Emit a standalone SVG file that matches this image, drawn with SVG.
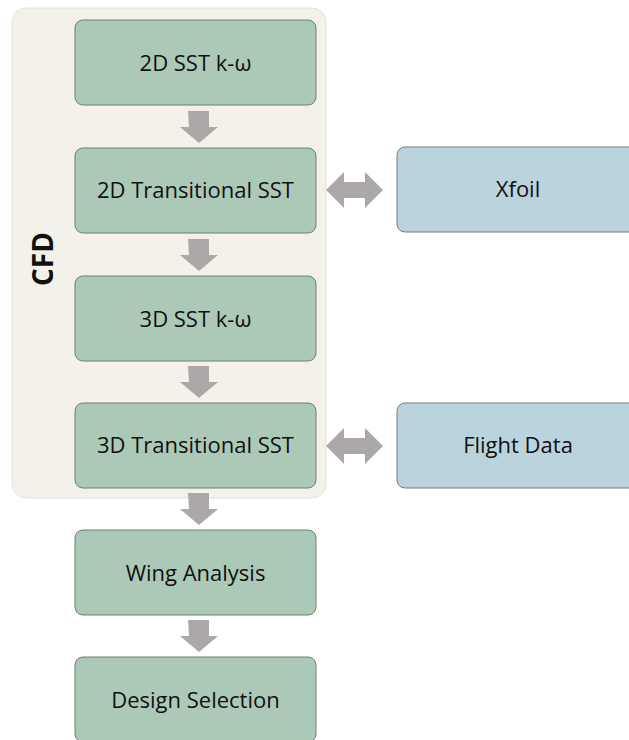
<svg xmlns="http://www.w3.org/2000/svg" width="629" height="740" viewBox="0 0 629 740">
<style>
.g{fill:#acc9b7;stroke:#6f7f75;stroke-width:1}
.b{fill:#bad3dc;stroke:#6f7f85;stroke-width:1}
.t{font-family:"Open Sans","Liberation Sans",sans-serif;font-size:22px;fill:#111;text-anchor:middle;dominant-baseline:central}
.a{fill:#aca8a8}
</style>
<rect width="629" height="740" fill="#fff"/>
<g id="cfd">
<rect x="12" y="8" width="314" height="490" rx="14" fill="#f4f1ea" stroke="#e6e3dc" stroke-width="1"/>
<text x="42" y="259" transform="rotate(-90 42 259)" font-family="'Open Sans','Liberation Sans',sans-serif" font-size="28" font-weight="bold" fill="#111" text-anchor="middle" dominant-baseline="central">CFD</text>
</g>
<g id="n1"><rect class="g" x="75" y="20" width="241" height="85" rx="8"/><text class="t" x="195.5" y="62">2D SST k-ω</text></g>
<g id="n2"><rect class="g" x="75" y="148" width="241" height="85" rx="8"/><text class="t" x="195.5" y="189">2D Transitional SST</text></g>
<g id="n3"><rect class="g" x="75" y="276" width="241" height="85" rx="8"/><text class="t" x="195.5" y="318">3D SST k-ω</text></g>
<g id="n4"><rect class="g" x="75" y="403" width="241" height="85" rx="8"/><text class="t" x="195.5" y="444">3D Transitional SST</text></g>
<g id="n5"><rect class="g" x="75" y="530" width="241" height="85" rx="8"/><text class="t" x="195.5" y="572">Wing Analysis</text></g>
<g id="n6"><rect class="g" x="75" y="657" width="241" height="85" rx="8"/><text class="t" x="195.5" y="699">Design Selection</text></g>
<g id="n7"><rect class="b" x="397" y="147" width="245" height="85" rx="8"/><text class="t" x="518" y="188">Xfoil</text></g>
<g id="n8"><rect class="b" x="397" y="403" width="245" height="85" rx="8"/><text class="t" x="518" y="444">Flight Data</text></g>
<g id="connectors">
<path class="a" d="M188 111h21v16h9l-19 16l-19-16h9z"/>
<path class="a" d="M188 239h21v16h9l-19 16l-19-16h9z"/>
<path class="a" d="M188 366h21v16h9l-19 16l-19-16h9z"/>
<path class="a" d="M188 493h21v16h9l-19 16l-19-16h9z"/>
<path class="a" d="M188 620h21v16h9l-19 16l-19-16h9z"/>
<path class="a" d="M326 190l18-18v10h21v-10l18 18l-18 18v-10h-21v10z"/>
<path class="a" d="M326 446l18-18v10h21v-10l18 18l-18 18v-10h-21v10z"/>
</g>
</svg>
